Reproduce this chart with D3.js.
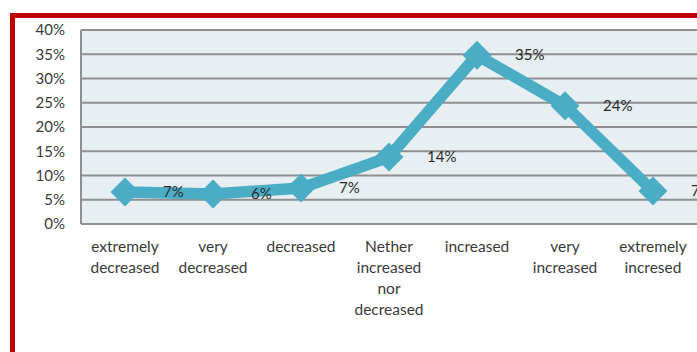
<!DOCTYPE html>
<html><head><meta charset="utf-8">
<script src="https://cdn.jsdelivr.net/npm/d3@7"></script>
<style>body{margin:0;background:#fff;overflow:hidden}svg{display:block}</style>
</head><body>
<script>
const categories = [["extremely","decreased"],["very","decreased"],["decreased"],["Nether","increased","nor","decreased"],["increased"],["very","increased"],["extremely","incresed"]];
const values = [6.6, 6.2, 7.4, 13.8, 34.8, 24.4, 6.8];
const valueLabels = ["7%","6%","7%","14%","35%","24%","7%"];
const yTicks = [0,5,10,15,20,25,30,35,40];

const W = 697, H = 352;
const svg = d3.select("body").append("svg").attr("width", W).attr("height", H);
const font = "Lato, 'Open Sans', sans-serif";

// red frame
svg.append("rect").attr("x", 12.5).attr("y", 15.5).attr("width", 720).attr("height", 400)
  .attr("fill", "none").attr("stroke", "#c00000").attr("stroke-width", 5);

const m = {left: 81, top: 30, right: 697, bottom: 224};
const x = d3.scaleBand().domain(d3.range(values.length)).range([m.left, m.right]);
const y = d3.scaleLinear().domain([0, 40]).range([m.bottom, m.top]);

svg.append("rect").attr("x", m.left).attr("y", m.top).attr("width", m.right - m.left).attr("height", m.bottom - m.top)
  .attr("fill", "#e8eff3");

// gridlines
svg.append("g").selectAll("line").data(yTicks).join("line")
  .attr("x1", m.left).attr("x2", m.right + 10)
  .attr("y1", d => y(d)).attr("y2", d => y(d))
  .attr("stroke", "#8f8f8f").attr("stroke-width", 2);

// left axis line
svg.append("line").attr("x1", m.left).attr("x2", m.left).attr("y1", m.top).attr("y2", m.bottom)
  .attr("stroke", "#8f8f8f").attr("stroke-width", 2);

// y axis labels
const yAxis = d3.axisLeft(y).tickValues(yTicks).tickFormat(d => d + "%").tickSize(0).tickPadding(16);
const ya = svg.append("g").attr("transform", `translate(${m.left},0)`).call(yAxis);
ya.select(".domain").remove();
ya.selectAll("text").attr("font-family", font).attr("font-size", 15).attr("fill", "#3a3a3a");

// x labels
const xg = svg.append("g");
categories.forEach((lines, i) => {
  const t = xg.append("text").attr("x", x(i) + x.bandwidth() / 2).attr("y", 252)
    .attr("text-anchor", "middle").attr("font-family", font).attr("font-size", 15.5).attr("fill", "#3a3a3a");
  lines.forEach((l, j) => t.append("tspan").attr("x", x(i) + x.bandwidth() / 2).attr("dy", j === 0 ? 0 : 21).text(l));
});

const cx = i => x(i) + x.bandwidth() / 2;
const line = d3.line().x((d, i) => cx(i)).y(d => y(d));
svg.append("path").datum(values).attr("d", line).attr("fill", "none")
  .attr("stroke", "#4bacc6").attr("stroke-width", 11.5).attr("stroke-linejoin", "miter");

const sym = d3.symbol().type(d3.symbolSquare).size(420);
svg.append("g").selectAll("path").data(values).join("path")
  .attr("d", sym)
  .attr("transform", (d, i) => `translate(${cx(i)},${y(d)}) rotate(45)`)
  .attr("fill", "#4bacc6");

svg.append("g").selectAll("text").data(values).join("text")
  .attr("x", (d, i) => cx(i) + 38).attr("y", d => y(d) + 5)
  .attr("font-family", font).attr("font-size", 15).attr("fill", "#2a2a2a")
  .text((d, i) => valueLabels[i]);
</script>
</body></html>
